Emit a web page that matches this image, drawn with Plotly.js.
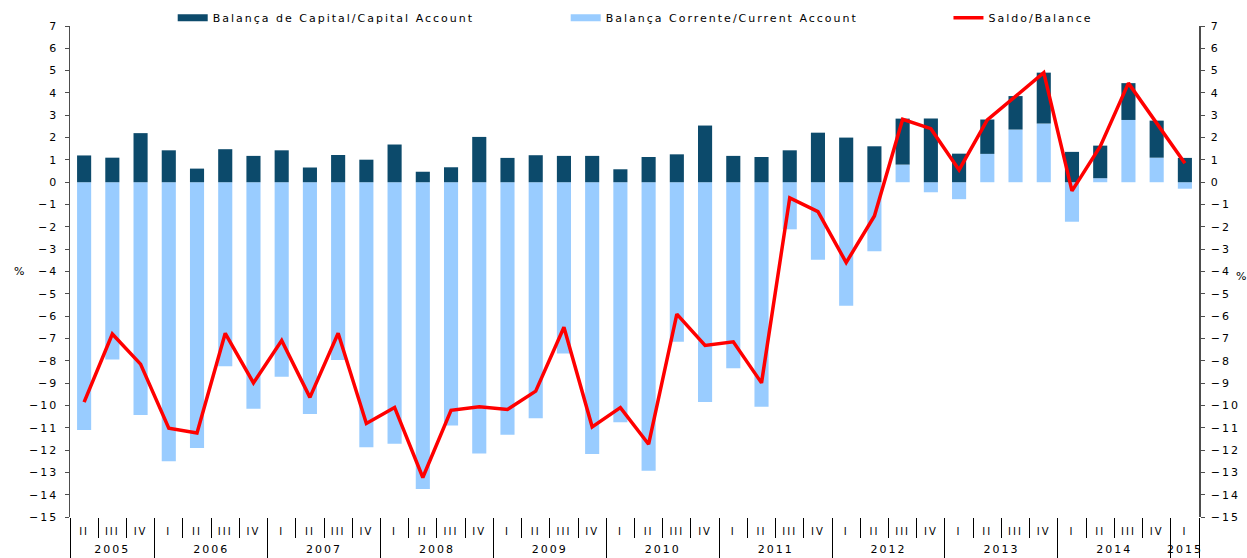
<!DOCTYPE html>
<html>
<head>
<meta charset="utf-8">
<script src="https://cdn.plot.ly/plotly-3.0.1.min.js"></script>
<style>
html,body{margin:0;padding:0;background:#fff;}
#chart{width:1247px;height:558px;}
#chart svg text{letter-spacing:2px;}
</style>
</head>
<body>
<div id="chart"></div>
<script>
const years = ["2005","2005","2005",
  "2006","2006","2006","2006","2007","2007","2007","2007",
  "2008","2008","2008","2008","2009","2009","2009","2009",
  "2010","2010","2010","2010","2011","2011","2011","2011",
  "2012","2012","2012","2012","2013","2013","2013","2013",
  "2014","2014","2014","2014","2015"];
const quarters = ["II","III","IV",
  "I","II","III","IV","I","II","III","IV",
  "I","II","III","IV","I","II","III","IV",
  "I","II","III","IV","I","II","III","IV",
  "I","II","III","IV","I","II","III","IV",
  "I","II","III","IV","I"];
const capitalAccount = [1.2,1.1,2.2,1.43,0.61,1.48,1.18,1.43,0.66,1.22,1.01,1.69,0.47,0.67,2.03,1.09,1.21,1.18,1.18,0.58,1.13,1.25,2.54,1.18,1.13,1.43,2.22,2.0,1.61,2.06,2.85,1.28,1.54,1.5,2.28,1.36,1.46,1.65,1.66,1.09];
const currentAccount = [-11.1,-7.94,-10.43,-12.5,-11.91,-8.25,-10.15,-8.72,-10.39,-7.97,-11.87,-11.72,-13.74,-10.9,-12.15,-11.32,-10.58,-7.67,-12.18,-10.75,-12.93,-7.15,-9.85,-8.33,-10.06,-2.11,-3.47,-5.53,-3.09,0.79,-0.45,-0.76,1.27,2.36,2.63,-1.77,0.18,2.79,1.1,-0.29];
const balance = [-9.85,-6.8,-8.15,-11.02,-11.24,-6.77,-8.99,-7.09,-9.64,-6.77,-10.81,-10.09,-13.23,-10.22,-10.06,-10.18,-9.36,-6.5,-10.96,-10.1,-11.74,-5.91,-7.31,-7.15,-8.99,-0.7,-1.32,-3.6,-1.51,2.82,2.4,0.55,2.79,3.86,4.91,-0.39,1.6,4.44,2.65,0.85];

const names = ["Balança de Capital/Capital Account","Balança Corrente/Current Account","Saldo/Balance"];
const cDark = "#0c4a6b", cLight = "#99ccff", cRed = "#ff0000";
const FONT = "DejaVu Sans, Verdana, sans-serif";

// categories derived from the label arrays
const cats = years.map((y, i) => y + " " + quarters[i]);
const idx = cats.map((c, i) => i);
const yearList = [], yearCenters = [], yearBounds = [-0.5];
years.forEach((y, i) => {
  if (i > 0 && y !== years[i - 1]) yearBounds.push(i - 0.5);
  if (yearList.indexOf(y) < 0) yearList.push(y);
});
yearBounds.push(years.length - 0.5);
yearList.forEach(y => {
  const ii = idx.filter(i => years[i] === y);
  yearCenters.push((ii[0] + ii[ii.length - 1]) / 2);
});
const innerBounds = idx.slice(0, -1).map(i => i + 0.5);
const xr = [-0.5, cats.length - 0.5];

const traces = [
  {type:"bar", x:cats, y:currentAccount, name:names[1], marker:{color:cLight}, showlegend:false},
  {type:"bar", x:cats, y:capitalAccount, name:names[0], marker:{color:cDark}, showlegend:false},
  {type:"scatter", mode:"lines", x:cats, y:balance, name:names[2], line:{color:cRed, width:3.5}, showlegend:false, yaxis:"y2"},
  // legend entries (no data); each also anchors one of the helper label axes
  {type:"scatter", mode:"lines", x:[null], y:[null], name:names[0], line:{color:cDark, width:7}, legend:"legend", xaxis:"x3"},
  {type:"scatter", mode:"lines", x:[null], y:[null], name:names[1], line:{color:cLight, width:7}, legend:"legend", xaxis:"x4"},
  {type:"scatter", mode:"lines", x:[null], y:[null], name:names[2], line:{color:cRed, width:3.5}, legend:"legend2", xaxis:"x5"}
];

const yax = {
  range:[-15,7], dtick:1, tick0:0, showgrid:false, zeroline:false, automargin:false,
  showline:true, linecolor:"#4d4d4d", linewidth:1.5,
  ticks:"outside", ticklen:4, tickcolor:"#4d4d4d", ticklabelstandoff:4,
  tickfont:{family:FONT, size:11, color:"#000"}
};
const freeX = {overlaying:"x", anchor:"free", position:0, side:"bottom", type:"linear", range:xr, automargin:false,
  showline:false, showgrid:false, zeroline:false, tickmode:"array"};

const layout = {
  width:1247, height:558,
  margin:{l:70, r:48, t:26, b:41, pad:0, autoexpand:false},
  paper_bgcolor:"#fff", plot_bgcolor:"#fff",
  barmode:"relative", bargap:0.5,
  font:{family:FONT, size:11, color:"#000"},
  showlegend:true,
  legend:{orientation:"h", xref:"container", yref:"container", x:0.1385, y:0.994, xanchor:"left", yanchor:"top",
    entrywidth:348, entrywidthmode:"pixels", font:{family:FONT, size:11, color:"#000"}, bgcolor:"rgba(0,0,0,0)"},
  legend2:{orientation:"h", xref:"container", yref:"container", x:0.7606, y:0.994, xanchor:"left", yanchor:"top",
    entrywidth:170, entrywidthmode:"pixels", font:{family:FONT, size:11, color:"#000"}, bgcolor:"rgba(0,0,0,0)"},
  xaxis:{type:"category", range:xr, showline:false, showgrid:false, zeroline:false, automargin:false,
    ticks:"outside", tickson:"boundaries", ticklen:20, tickcolor:"#000", showticklabels:false},
  // zero line with small ticks at category boundaries
  xaxis2:Object.assign({}, freeX, {position:15/22, showline:true, linecolor:"#000", linewidth:1,
    ticks:"outside", ticklen:4, tickcolor:"#000", tickvals:innerBounds, showticklabels:false}),
  // quarter labels
  xaxis3:Object.assign({}, freeX, {tickvals:idx, ticktext:quarters, ticks:"outside", ticklen:5,
    tickcolor:"rgba(0,0,0,0)", tickfont:{family:FONT, size:10, color:"#000"}}),
  // year labels
  xaxis4:Object.assign({}, freeX, {tickvals:yearCenters, ticktext:yearList, ticks:"outside", ticklen:22,
    tickcolor:"rgba(0,0,0,0)", tickfont:{family:FONT, size:11, color:"#000"}}),
  // year dividers
  xaxis5:Object.assign({}, freeX, {tickvals:yearBounds, ticks:"outside", ticklen:41, tickcolor:"#000",
    tickwidth:1, showticklabels:false}),
  yaxis:Object.assign({}, yax, {side:"left"}),
  yaxis2:Object.assign({}, yax, {side:"right", overlaying:"y", anchor:"x"}),
  annotations:[
    {text:"%", xref:"paper", yref:"paper", x:-0.0443, y:0.4996, xanchor:"center", yanchor:"middle", showarrow:false, font:{family:FONT, size:11}},
    {text:"%", xref:"paper", yref:"paper", x:1.038, y:0.489, xanchor:"center", yanchor:"middle", showarrow:false, font:{family:FONT, size:11}}
  ]
};

Plotly.newPlot("chart", traces, layout, {displayModeBar:false, staticPlot:true});
</script>
</body>
</html>
